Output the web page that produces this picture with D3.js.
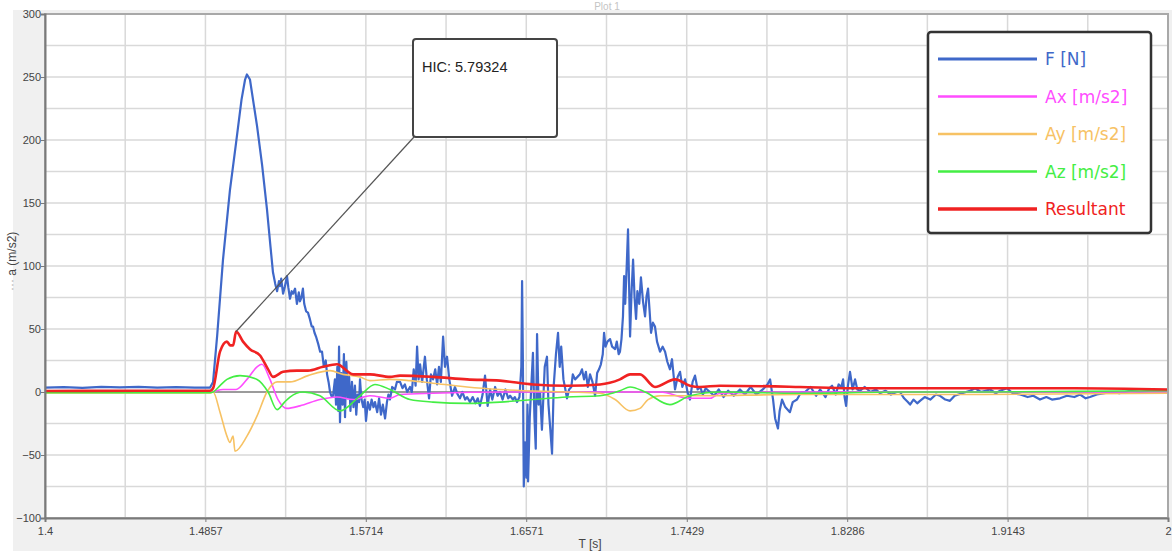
<!DOCTYPE html>
<html>
<head>
<meta charset="utf-8">
<script src="https://cdn.jsdelivr.net/npm/d3@7"></script>
<style>
  html, body { margin: 0; padding: 0; background: #fff; }
  #container { width: 1172px; height: 551px; }
  text { font-family: "Liberation Sans", Arial, sans-serif; }
</style>
</head>
<body>
<div id="container"></div>
<script>
/* CONSTANTS AND GLOBALS */
const width = 1172,
  height = 551,
  margin = { top: 14, bottom: 33, left: 45, right: 4 };

// DATA : [time s, value]
const fData = [
  [1.4000,3.5],[1.4100,3.9],[1.4200,3.3],[1.4300,4.1],[1.4400,3.6],[1.4500,4.0],[1.4600,3.4],[1.4700,3.8],[1.4800,3.4],[1.4882,3.5],
  [1.4898,8],[1.4920,45],[1.4951,105],[1.4988,160],[1.5021,198],[1.5050,232],[1.5069,248],[1.5079,252],[1.5095,248],[1.5133,211],
  [1.5160,180],[1.5186,145],[1.5205,115],[1.5218,95],[1.5230,86],[1.5240,80],[1.5250,88],[1.5256,84],[1.5262,90],[1.5272,78],
  [1.5282,84],[1.5293,92],[1.5300,83],[1.5309,74],[1.5318,80],[1.5325,78],[1.5336,82],[1.5346,70],[1.5356,79],[1.5362,72],
  [1.5370,75],[1.5378,82],[1.5385,70],[1.5395,64],[1.5405,63],[1.5415,58],[1.5425,52],[1.5432,52],[1.5440,47],[1.5448,44],
  [1.5460,38],[1.5470,32],[1.5480,32],[1.5490,20],[1.5500,25],[1.5507,14],[1.5515,8],[1.5523,0],[1.5530,-3],[1.5539,-3],
  [1.5549,10],[1.5555,-10],[1.5562,20],[1.5567,-15],[1.5571,36],[1.5576,-24],[1.5583,15],[1.5590,-10],[1.5597,30],[1.5603,-20],
  [1.5610,24],[1.5618,-5],[1.5625,12],[1.5632,-15],[1.5640,8],[1.5648,-12],[1.5656,5],[1.5663,-18],[1.5670,-2],[1.5678,-8],
  [1.5683,10],[1.5690,-5],[1.5700,-12],[1.5708,-6],[1.5715,-23],[1.5725,-8],[1.5736,-14],[1.5745,-6],[1.5755,-12],[1.5763,-8],
  [1.5775,-16],[1.5785,-5],[1.5795,-18],[1.5805,-10],[1.5817,-21],[1.5827,-8],[1.5835,-2],[1.5843,-6],[1.5855,4],[1.5870,2],
  [1.5880,8],[1.5897,8],[1.5910,3],[1.5923,6],[1.5935,0],[1.5950,4],[1.5960,0],[1.5970,18],[1.5980,5],[1.5988,36],
  [1.5996,10],[1.6004,22],[1.6015,8],[1.6030,28],[1.6040,10],[1.6052,-5],[1.6062,14],[1.6073,10],[1.6085,18],[1.6095,6],
  [1.6105,20],[1.6115,8],[1.6127,44],[1.6137,20],[1.6148,28],[1.6160,10],[1.6175,-3],[1.6190,4],[1.6205,-2],[1.6217,-5],
  [1.6230,0],[1.6245,-6],[1.6255,-4],[1.6271,-8],[1.6285,-4],[1.6300,-9],[1.6312,-5],[1.6324,-11],[1.6338,-2],[1.6351,13],
  [1.6365,-11],[1.6378,2],[1.6390,-6],[1.6405,4],[1.6418,-3],[1.6431,0],[1.6445,-6],[1.6460,2],[1.6475,-5],[1.6485,-3],
  [1.6500,-6],[1.6510,-4],[1.6522,-8],[1.6535,-4],[1.6545,20],[1.6549,88],[1.6553,30],[1.6558,-75],[1.6565,-40],[1.6572,-68],
  [1.6578,-10],[1.6581,-71],[1.6590,-20],[1.6600,10],[1.6607,31],[1.6615,-20],[1.6622,-45],[1.6629,46],[1.6637,-10],[1.6645,0],
  [1.6655,-30],[1.6670,20],[1.6682,28],[1.6690,-10],[1.6700,-30],[1.6709,-49],[1.6718,5],[1.6730,30],[1.6741,47],[1.6750,20],
  [1.6758,36],[1.6770,10],[1.6789,-5],[1.6800,2],[1.6812,4],[1.6820,14],[1.6832,10],[1.6845,12],[1.6858,14],[1.6869,18],
  [1.6880,10],[1.6890,16],[1.6900,4],[1.6912,14],[1.6925,8],[1.6939,-3],[1.6950,15],[1.6960,18],[1.6970,22],[1.6980,30],
  [1.6987,47],[1.6995,36],[1.7005,40],[1.7019,42],[1.7030,36],[1.7046,34],[1.7055,40],[1.7065,30],[1.7072,32],[1.7080,42],
  [1.7088,60],[1.7094,92],[1.7100,70],[1.7108,100],[1.7115,129],[1.7120,90],[1.7126,44],[1.7134,80],[1.7142,105],[1.7150,75],
  [1.7158,58],[1.7165,80],[1.7175,70],[1.7184,91],[1.7195,72],[1.7206,60],[1.7214,76],[1.7222,82],[1.7230,65],[1.7238,47],
  [1.7248,55],[1.7259,52],[1.7270,40],[1.7286,32],[1.7300,36],[1.7313,32],[1.7325,24],[1.7339,18],[1.7350,26],[1.7366,2],
  [1.7380,12],[1.7393,16],[1.7405,4],[1.7420,10],[1.7433,0],[1.7446,-6],[1.7460,8],[1.7473,13],[1.7487,2],[1.7500,4],
  [1.7515,-2],[1.7530,3],[1.7553,0],[1.7575,-3],[1.7600,2],[1.7625,-4],[1.7650,1],[1.7680,-3],[1.7713,2],[1.7740,-2],
  [1.7770,4],[1.7800,-2],[1.7835,2],[1.7860,6],[1.7874,10],[1.7890,-6],[1.7901,-21],[1.7916,-29],[1.7925,-15],[1.7938,-6],
  [1.7955,-12],[1.7980,-16],[1.7995,-8],[1.8018,-6],[1.8040,0],[1.8061,0],[1.8090,4],[1.8120,-3],[1.8141,2],[1.8170,-4],
  [1.8190,3],[1.8205,5],[1.8225,-2],[1.8240,6],[1.8255,4],[1.8264,10],[1.8272,-4],[1.8280,-11],[1.8290,5],[1.8301,16],
  [1.8315,2],[1.8328,10],[1.8340,2],[1.8355,1],[1.8380,4],[1.8410,0],[1.8440,2],[1.8461,-1],[1.8490,1],[1.8520,-2],
  [1.8550,0],[1.8568,0],[1.8590,-5],[1.8610,-8],[1.8622,-10],[1.8640,-6],[1.8660,-9],[1.8675,-7],[1.8700,-4],[1.8730,-6],
  [1.8760,-2],[1.8782,-3],[1.8810,-6],[1.8835,-7],[1.8860,-3],[1.8900,-1],[1.8942,1],[1.8970,3],[1.9000,0],[1.9049,2],
  [1.9080,-1],[1.9103,1],[1.9140,3],[1.9170,-1],[1.9210,-2],[1.9250,-4],[1.9280,-3],[1.9316,-6],[1.9350,-4],[1.9380,-6],
  [1.9423,-5],[1.9460,-3],[1.9500,-4],[1.9530,-2],[1.9560,-5],[1.9583,-4],[1.9620,-2],[1.9660,-1],[1.9690,0],[1.9740,-1],
  [1.9797,1],[1.9850,0],[1.9904,1],[1.9950,1],[2.0000,1]
];

const axData = [
  [1.4000,0],[1.4882,0],[1.4951,2],[1.5021,2],[1.5079,10],[1.5133,20],[1.5159,22],[1.5202,10],[1.5245,-6],[1.5293,-13],
  [1.5362,-11],[1.5469,-6],[1.5560,-4],[1.5646,-6],[1.5736,-3],[1.5843,-5],[1.5897,-2],[1.6073,-1],[1.6500,0],[1.7000,0],
  [1.7286,0],[1.7446,-5],[1.7553,-5],[1.7607,-1],[1.8000,0],[2.0000,0]
];

const ayData = [
  [1.4000,-0.8],[1.4882,-0.8],[1.4898,0],[1.4935,-16],[1.4972,-35],[1.4988,-40],[1.5005,-35],[1.5015,-47],[1.5079,-35],[1.5133,-19],
  [1.5186,0],[1.5240,8],[1.5309,8],[1.5405,13],[1.5523,17],[1.5592,14],[1.5683,12],[1.5736,9],[1.5843,10],[1.5950,9],
  [1.6073,7],[1.6255,4],[1.6431,2],[1.6789,0],[1.6965,-1],[1.7046,-6],[1.7126,-15],[1.7179,-13],[1.7222,-6],[1.7286,-3],
  [1.7446,-3],[1.8034,-2],[1.9000,-2],[2.0000,-1]
];

const azData = [
  [1.4000,-0.5],[1.4882,-0.5],[1.4898,0],[1.4935,5],[1.4972,10],[1.5042,13],[1.5133,10],[1.5192,0],[1.5240,-14],[1.5280,-8],
  [1.5309,-4],[1.5378,0],[1.5469,-3],[1.5576,-15],[1.5683,-3],[1.5763,6],[1.5843,2],[1.5950,-6],[1.6073,-8],[1.6255,-9],
  [1.6431,-8],[1.6607,-6],[1.6789,-4],[1.6965,-3],[1.7072,1],[1.7126,4],[1.7206,0],[1.7339,-10],[1.7446,-3],[1.7607,0],
  [1.8034,-1],[1.8568,0],[1.9000,0],[1.9500,0.5],[2.0000,1]
];

const resData = [
  [1.4000,0.8],[1.4500,1],[1.4882,1],[1.4898,3],[1.4935,32],[1.4972,40],[1.4990,37],[1.5005,37],[1.5021,48],[1.5058,40],
  [1.5095,34],[1.5149,29],[1.5192,18],[1.5218,12],[1.5272,16],[1.5346,17],[1.5405,17],[1.5485,20],[1.5560,22],[1.5646,14],
  [1.5736,14],[1.5843,12],[1.5897,13],[1.6073,12],[1.6255,10],[1.6431,9],[1.6607,6],[1.6789,5],[1.6965,6],[1.7072,10],
  [1.7126,14],[1.7179,14],[1.7259,4],[1.7366,10],[1.7446,5],[1.7500,4],[1.7607,5],[1.8034,4],[1.8301,3],[1.8568,3],
  [1.9000,3],[1.9500,3],[2.0000,2]
];

const seriesNames = ["F [N]", "Ax [m/s2]", "Ay [m/s2]", "Az [m/s2]", "Resultant"];
const seriesData = [fData, axData, ayData, azData, resData];
const xTickValues = [1.4, 1.4857, 1.5714, 1.6571, 1.7429, 1.8286, 1.9143, 2];
const xTickLabels = ["1.4", "1.4857", "1.5714", "1.6571", "1.7429", "1.8286", "1.9143", "2"];
const yTickValues = [-100, -50, 0, 50, 100, 150, 200, 250, 300];
const hicLabel = "HIC: 5.79324";
const hicPoint = [1.5021, 48];

// styles per series
const colors = ["#3f68c9", "#ff4dff", "#f7c264", "#44ee44", "#f02222"];
const strokeW = [2.2, 1.6, 1.6, 1.6, 2.6];

/* SVG */
const svg = d3.select("#container")
  .append("svg")
  .attr("width", width)
  .attr("height", height);

// outer panel
svg.append("rect")
  .attr("x", 13).attr("y", 10)
  .attr("width", width - 13).attr("height", height - 10)
  .attr("fill", "#f0f0f0");

// SCALES
const xScale = d3.scaleLinear()
  .domain([1.4, 2])
  .range([margin.left, width - margin.right]);

const yScale = d3.scaleLinear()
  .domain([-100, 300])
  .range([height - margin.bottom, margin.top]);

// plot area
svg.append("rect")
  .attr("x", xScale(1.4)).attr("y", yScale(300))
  .attr("width", xScale(2) - xScale(1.4))
  .attr("height", yScale(-100) - yScale(300))
  .attr("fill", "#fff");

// GRID (half steps on x, 25 on y)
const xGrid = d3.range(0, 15).map(i => 1.4 + i * 0.6 / 14);
const yGrid = d3.range(-100, 301, 25);

svg.append("g")
  .selectAll("line")
  .data(xGrid)
  .join("line")
  .attr("x1", d => xScale(d)).attr("x2", d => xScale(d))
  .attr("y1", yScale(300)).attr("y2", yScale(-100))
  .attr("stroke", "#d9d9d9")
  .attr("stroke-width", 1.5);

svg.append("g")
  .selectAll("line")
  .data(yGrid)
  .join("line")
  .attr("x1", xScale(1.4)).attr("x2", xScale(2))
  .attr("y1", d => yScale(d)).attr("y2", d => yScale(d))
  .attr("stroke", "#d9d9d9")
  .attr("stroke-width", 1.5);

// zero line
svg.append("line")
  .attr("x1", xScale(1.4)).attr("x2", xScale(2))
  .attr("y1", yScale(0)).attr("y2", yScale(0))
  .attr("stroke", "#555")
  .attr("stroke-width", 1.2);

// LINES (force raw, accelerations filtered so smooth)
const lineRaw = d3.line()
  .x(d => xScale(d[0]))
  .y(d => yScale(d[1]));

const lineSmooth = d3.line()
  .curve(d3.curveMonotoneX)
  .x(d => xScale(d[0]))
  .y(d => yScale(d[1]));

svg.append("g")
  .selectAll("path")
  .data(seriesData)
  .join("path")
  .attr("d", (d, i) => i === 0 ? lineRaw(d) : lineSmooth(d))
  .attr("fill", "none")
  .attr("stroke", (d, i) => colors[i])
  .attr("stroke-width", (d, i) => strokeW[i])
  .attr("stroke-linejoin", "round");

// frame
svg.append("rect")
  .attr("x", xScale(1.4)).attr("y", yScale(300))
  .attr("width", xScale(2) - xScale(1.4))
  .attr("height", yScale(-100) - yScale(300))
  .attr("fill", "none")
  .attr("stroke", "#a8a8a8")
  .attr("stroke-width", 2);

// AXES
const xAxis = d3.axisBottom(xScale)
  .tickValues(xTickValues)
  .tickFormat((d, i) => xTickLabels[i])
  .tickSizeOuter(0)
  .tickSize(4);

const yAxis = d3.axisLeft(yScale)
  .tickValues(yTickValues)
  .tickSizeOuter(0)
  .tickSize(4);

const gx = svg.append("g")
  .attr("transform", `translate(0,${yScale(-100)})`)
  .call(xAxis);

const gy = svg.append("g")
  .attr("transform", `translate(${xScale(1.4)},0)`)
  .call(yAxis);

[gx, gy].forEach(g => {
  g.select(".domain").attr("stroke", "#7a7a7a").attr("stroke-width", 2);
  g.selectAll(".tick line").attr("stroke", "#7a7a7a");
  g.selectAll(".tick text")
    .attr("fill", "#444")
    .style("font-size", "11px");
});
gy.selectAll(".tick text").attr("x", -4);
gx.selectAll(".tick text").attr("dy", "0.9em");

// axis titles
svg.append("text")
  .attr("x", 590).attr("y", 548)
  .attr("text-anchor", "middle")
  .attr("fill", "#444")
  .style("font-size", "12px")
  .text("T [s]");

const yLab = svg.append("text")
  .attr("transform", "translate(16,291) rotate(-90)")
  .attr("fill", "#444")
  .style("font-size", "12px");
yLab.append("tspan").attr("fill", "#aaa").text("··· ");
yLab.append("tspan").text("a (m/s2)");

// faint title
svg.append("text")
  .attr("x", 607).attr("y", 10)
  .attr("text-anchor", "middle")
  .attr("fill", "#c4c4c4")
  .style("font-size", "10px")
  .text("Plot 1");

// HIC ANNOTATION
const hicBox = { x: 413, y: 39, w: 144, h: 98 };
svg.append("line")
  .attr("x1", xScale(hicPoint[0])).attr("y1", yScale(hicPoint[1]))
  .attr("x2", hicBox.x + 1).attr("y2", hicBox.y + hicBox.h)
  .attr("stroke", "#555")
  .attr("stroke-width", 1.2);

svg.append("rect")
  .attr("x", hicBox.x).attr("y", hicBox.y)
  .attr("width", hicBox.w).attr("height", hicBox.h)
  .attr("rx", 3)
  .attr("fill", "#fff")
  .attr("stroke", "#444")
  .attr("stroke-width", 2);

svg.append("text")
  .attr("x", hicBox.x + 9).attr("y", hicBox.y + 33)
  .attr("fill", "#222")
  .style("font-size", "14.5px")
  .text(hicLabel);

// LEGEND
const leg = svg.append("g").attr("transform", "translate(928,32)");
leg.append("rect")
  .attr("width", 223).attr("height", 201)
  .attr("rx", 3)
  .attr("fill", "#fff")
  .attr("stroke", "#333")
  .attr("stroke-width", 2.5);

const items = leg.selectAll("g.item")
  .data(seriesNames)
  .join("g")
  .attr("class", "item")
  .attr("transform", (d, i) => `translate(0,${27 + i * 37.5})`);

items.append("line")
  .attr("x1", 10).attr("x2", 109)
  .attr("stroke", (d, i) => colors[i])
  .attr("stroke-width", (d, i) => strokeW[i] + 1);

items.append("text")
  .attr("x", 117).attr("y", 6)
  .attr("fill", (d, i) => colors[i])
  .style("font-family", "'DejaVu Sans', sans-serif")
  .style("font-size", "17px")
  .text(d => d);
</script>
</body>
</html>
